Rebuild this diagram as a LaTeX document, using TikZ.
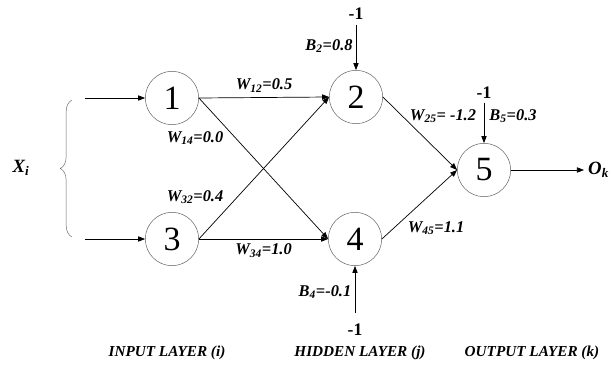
\documentclass[tikz,border=0pt]{standalone}
\usepackage{fontspec}
\setmainfont{Liberation Serif}
\usetikzlibrary{arrows.meta,positioning,decorations.pathreplacing}

\begin{document}
\begin{tikzpicture}[x=0.03cm, y=-0.03cm, >={Triangle[length=6pt,width=4.5pt]}]
\tikzset{
  neuron/.style={circle, draw=black!65, thin, minimum size=1.6cm, inner sep=0pt,
    font=\fontsize{29}{31}\selectfont},
  wlabel/.style={font=\fontsize{14}{16}\selectfont\bfseries\itshape, inner sep=1pt},
  blabel/.style={font=\fontsize{15}{17}\selectfont\bfseries, inner sep=1pt},
  layer/.style={font=\fontsize{13}{15}\selectfont\bfseries\itshape},
  conn/.style={->, semithick},
}
\useasboundingbox (0,0) rectangle (613,369);
% neurons
\foreach \n/\x/\y in {1/172/98, 3/172/239, 2/356/97, 4/355/239, 5/484/170}{
  \node[neuron] (n\n) at (\x,\y) {\n};
}
% inputs and output
\coordinate (in1) at (85,98);
\coordinate (in3) at (85,239);
\coordinate (out) at (584,170);
\draw[conn] (in1) -- (n1);
\draw[conn] (in3) -- (n3);
\draw[conn] (n5) -- (out);
\node[font=\fontsize{16}{18}\selectfont\bfseries\itshape, anchor=west, inner sep=0pt] (ok) at (588,170) {O\textsubscript{k}};
\node[font=\fontsize{16}{18}\selectfont\bfseries\itshape] (xi) at (21,168) {X\textsubscript{i}};
\draw[thin, black!60, decorate, decoration={brace, amplitude=10pt}] (72,237) -- (72,100);
% weights
\draw[conn] (n1.east) -- node[wlabel, above=3pt] (w12) {W\textsubscript{12}=0.5} (n2.west);
\draw[conn] (n3.east) -- node[wlabel, below=3pt] (w34) {W\textsubscript{34}=1.0} (n4.west);
\draw[conn] (n1.east) -- (n4.west);
\draw[conn] (n3.east) -- (n2.west);
\draw[conn] (n2.east) -- (n5.west);
\draw[conn] (n4.east) -- (n5.west);
\node[wlabel] (w14) at (195,138) {W\textsubscript{14}=0.0};
\node[wlabel] (w32) at (195,197) {W\textsubscript{32}=0.4};
\node[wlabel] (w25) at (443,116) {W\textsubscript{25}= -1.2};
\node[wlabel] (w45) at (436,228) {W\textsubscript{45}=1.1};
% biases
\node[blabel] (m2) at (356,14) {-1};
\node[blabel] (m5) at (484,93) {-1};
\node[blabel] (m4) at (355,330) {-1};
\draw[conn, shorten <=3pt] (m2) -- (n2);
\draw[conn, shorten <=2pt] (m5) -- (n5);
\draw[conn, shorten <=8pt] (m4) -- (n4);
\node[wlabel] (b2) at (329,46) {B\textsubscript{2}=0.8};
\node[wlabel] (b5) at (513,116) {B\textsubscript{5}=0.3};
\node[wlabel] (b4) at (325,292) {B\textsubscript{4}=-0.1};
% layer names
\node[layer] (lin) at (167,353) {INPUT LAYER (i)};
\node[layer] (lhid) at (360,353) {HIDDEN LAYER (j)};
\node[layer] (lout) at (532,353) {OUTPUT LAYER (k)};
\end{tikzpicture}
\end{document}
